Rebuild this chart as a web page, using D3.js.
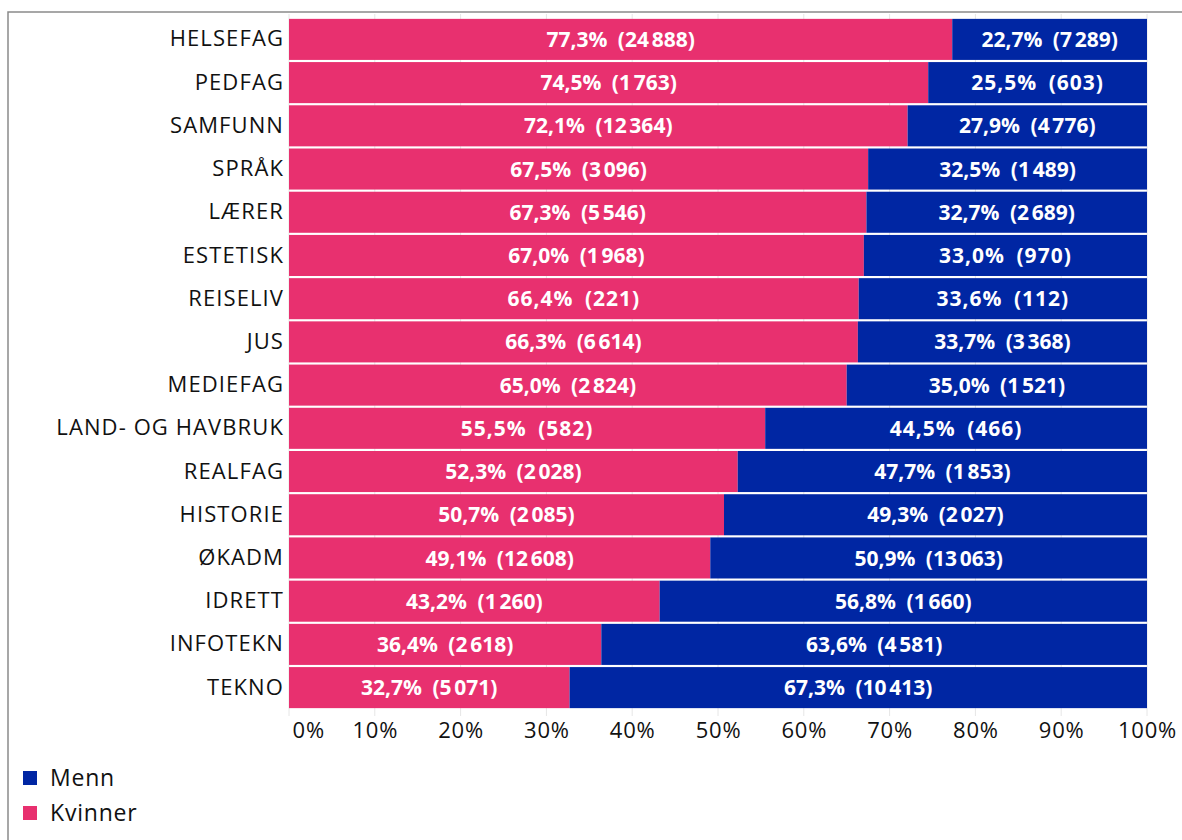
<!DOCTYPE html>
<html>
<head>
<meta charset="utf-8">
<script src="https://cdn.jsdelivr.net/npm/d3@7"></script>
<style>
  body { margin: 0; background: #fff; }
  svg { display: block; font-family: "Open Sans", sans-serif; }
</style>
</head>
<body>
<svg id="chart" width="1182" height="840"></svg>
<script>
// Chart data, top to bottom
const categories = ["HELSEFAG", "PEDFAG", "SAMFUNN", "SPRÅK", "LÆRER", "ESTETISK", "REISELIV", "JUS",
  "MEDIEFAG", "LAND- OG HAVBRUK", "REALFAG", "HISTORIE", "ØKADM", "IDRETT", "INFOTEKN", "TEKNO"];
const womenPct = [77.3, 74.5, 72.1, 67.5, 67.3, 67.0, 66.4, 66.3, 65.0, 55.5, 52.3, 50.7, 49.1, 43.2, 36.4, 32.7];
const womenCount = [24888, 1763, 12364, 3096, 5546, 1968, 221, 6614, 2824, 582, 2028, 2085, 12608, 1260, 2618, 5071];
const menPct = [22.7, 25.5, 27.9, 32.5, 32.7, 33.0, 33.6, 33.7, 35.0, 44.5, 47.7, 49.3, 50.9, 56.8, 63.6, 67.3];
const menCount = [7289, 603, 4776, 1489, 2689, 970, 112, 3368, 1521, 466, 1853, 2027, 13063, 1660, 4581, 10413];
const xTicks = [0, 10, 20, 30, 40, 50, 60, 70, 80, 90, 100];
const legendItems = ["Menn", "Kvinner"];

const pink = "#e8306f";
const blue = "#0026a3";

const rows = categories.map((c, i) => ({
  cat: c, wp: womenPct[i], wc: womenCount[i], mp: menPct[i], mc: menCount[i]
}));

// Norwegian number style: comma decimals, narrow space thousands
const no = d3.formatLocale({ decimal: ",", thousands: "\u202f", grouping: [3], currency: ["", " kr"] });
const fmtPct = no.format(".1f");
const fmtInt = no.format(",d");
const label = (p, n) => `${fmtPct(p)}%\u2002(${fmtInt(n)})`;

const svg = d3.select("#chart");

const x = d3.scaleLinear().domain([0, 100]).range([289, 1147]);
const y = d3.scaleBand().domain(categories).range([18, 709]).paddingInner(0.05).paddingOuter(0.02);

// frame
svg.append("path")
  .attr("d", "M8,840 V12 H1182")
  .attr("fill", "none")
  .attr("stroke", "#8a8a8a")
  .attr("stroke-width", 1.5);

// grid lines
svg.append("g")
  .selectAll("line")
  .data(xTicks)
  .join("line")
  .attr("x1", d => x(d)).attr("x2", d => x(d))
  .attr("y1", 14).attr("y2", 716)
  .attr("stroke", "#e6e6e6")
  .attr("stroke-width", 1);

// women bars
svg.append("g")
  .selectAll("rect")
  .data(rows)
  .join("rect")
  .attr("x", x(0))
  .attr("y", d => y(d.cat))
  .attr("width", d => x(d.wp) - x(0))
  .attr("height", y.bandwidth())
  .attr("fill", pink);

// men bars
svg.append("g")
  .selectAll("rect")
  .data(rows)
  .join("rect")
  .attr("x", d => x(d.wp))
  .attr("y", d => y(d.cat))
  .attr("width", d => x(d.wp + d.mp) - x(d.wp))
  .attr("height", y.bandwidth())
  .attr("fill", blue);

// value labels
const labels = svg.append("g")
  .attr("fill", "#fff")
  .attr("font-weight", 700)
  .attr("font-size", 21)
  .attr("letter-spacing", 1)
  .attr("text-anchor", "middle");

labels.selectAll(".wl")
  .data(rows)
  .join("text")
  .attr("class", "wl")
  .attr("x", d => x(d.wp / 2))
  .attr("y", d => y(d.cat) + y.bandwidth() / 2)
  .attr("dy", "0.36em")
  .text(d => label(d.wp, d.wc));

labels.selectAll(".ml")
  .data(rows)
  .join("text")
  .attr("class", "ml")
  .attr("x", d => x(d.wp + d.mp / 2))
  .attr("y", d => y(d.cat) + y.bandwidth() / 2)
  .attr("dy", "0.36em")
  .text(d => label(d.mp, d.mc));

// category axis
const yAxis = svg.append("g")
  .attr("transform", `translate(${x(0)},0)`)
  .call(d3.axisLeft(y).tickSize(0).tickPadding(5));
yAxis.select(".domain").remove();
yAxis.selectAll("text")
  .attr("font-size", 22)
  .attr("letter-spacing", 1.1)
  .attr("font-family", "Open Sans, sans-serif")
  .attr("fill", "#111");

// percent axis
const xAxis = svg.append("g")
  .attr("transform", "translate(0,716)")
  .call(d3.axisBottom(x).tickValues(xTicks).tickSize(0).tickPadding(6).tickFormat(d => d + "%"));
xAxis.select(".domain").remove();
xAxis.selectAll("text")
  .attr("font-size", 22)
  .attr("letter-spacing", 0.8)
  .attr("font-family", "Open Sans, sans-serif")
  .attr("fill", "#111");
xAxis.selectAll(".tick text").filter(d => d === 0)
  .attr("text-anchor", "start")
  .attr("dx", 3);

// legend
const legend = svg.append("g")
  .selectAll("g")
  .data(legendItems)
  .join("g")
  .attr("transform", (d, i) => `translate(23,${778 + i * 35})`);
legend.append("rect")
  .attr("x", 0).attr("y", -7)
  .attr("width", 14).attr("height", 14)
  .attr("fill", d => d === "Menn" ? blue : pink);
legend.append("text")
  .attr("x", 27)
  .attr("dy", "0.36em")
  .attr("font-size", 23)
  .attr("letter-spacing", 0.8)
  .attr("fill", "#111")
  .text(d => d);
</script>
</body>
</html>
